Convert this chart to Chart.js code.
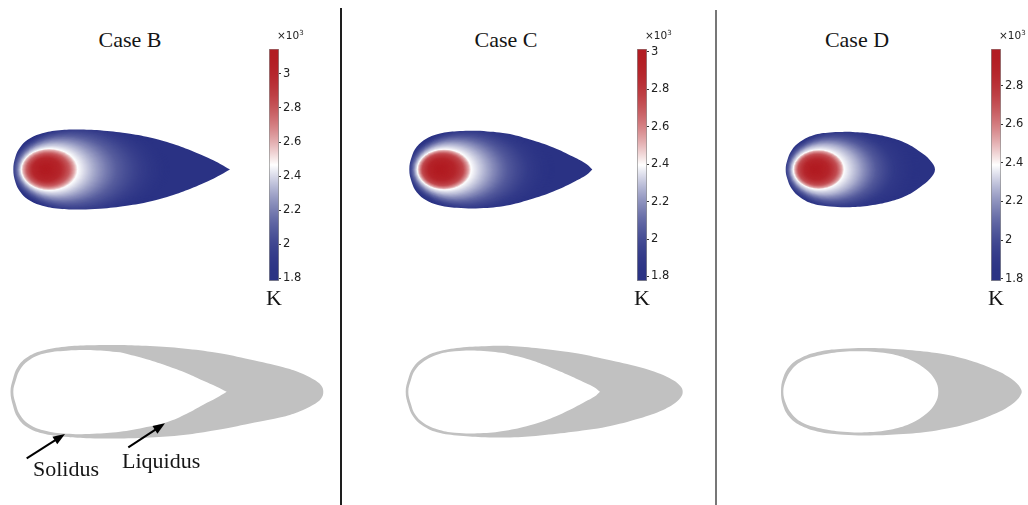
<!DOCTYPE html>
<html>
<head>
<meta charset="utf-8">
<script src="https://cdn.jsdelivr.net/npm/chart.js@4.4.1/dist/chart.umd.min.js"></script>
<style>
  html, body { margin: 0; padding: 0; background: #fff; }
  body { position: relative; width: 1028px; height: 505px; overflow: hidden;
         font-family: "Liberation Serif", "Times New Roman", serif; color: #151515; }
  canvas { position: absolute; }
  .txt { position: absolute; white-space: nowrap; font-size: 22px; line-height: 22px; }
  .mid { transform: translateX(-50%); }
  .mult { position: absolute; white-space: nowrap; font-family: "DejaVu Sans", sans-serif;
          font-size: 10.5px; line-height: 10px; color: #222; }
  .mult sup { font-size: 7px; position: relative; top: -4px; vertical-align: baseline; }
  .rule { position: absolute; bottom: 0; }
</style>
</head>
<body>
<script>
// ---------------------------------------------------------------
// Values (temperatures in 10^3 K, lengths in mm, heat source at 0,0)
// ---------------------------------------------------------------
const CASE_NAMES = ['Case B', 'Case C', 'Case D'];
const T_MIN = [1.784, 1.776, 1.788];
const T_MAX = [3.147, 3.016, 2.990];
const TICKS_B = [1.8, 2, 2.2, 2.4, 2.6, 2.8, 3];
const TICKS_C = [1.8, 2, 2.2, 2.4, 2.6, 2.8, 3];
const TICKS_D = [1.8, 2, 2.2, 2.4, 2.6, 2.8];

// melt-pool outline: x position and half width
const POOL_B_X    = [-0.317, -0.295, -0.25, -0.17, -0.05, 0.117, 0.317, 0.55, 0.817, 1.05, 1.283, 1.483, 1.683, 1.85];
const POOL_B_HALF = [0, 0.13, 0.22, 0.30, 0.355, 0.39, 0.40, 0.393, 0.363, 0.32, 0.255, 0.18, 0.092, 0];
const POOL_C_X    = [-0.307, -0.283, -0.233, -0.133, 0, 0.167, 0.40, 0.667, 0.90, 1.133, 1.333, 1.467, 1.523];
const POOL_C_HALF = [0, 0.127, 0.227, 0.31, 0.36, 0.383, 0.388, 0.36, 0.30, 0.22, 0.127, 0.053, 0];
const POOL_D_X    = [-0.293, -0.277, -0.233, -0.15, -0.017, 0.15, 0.35, 0.55, 0.75, 0.917, 1.05, 1.15, 1.20];
const POOL_D_HALF = [0, 0.093, 0.193, 0.277, 0.343, 0.37, 0.377, 0.36, 0.32, 0.26, 0.177, 0.093, 0];

// isotherms around the heat source: temperature, reach ahead, reach behind, half width
const ISO_B_T     = [3.147, 3.0, 2.8, 2.62, 2.47, 2.3, 2.1, 1.95, 1.784];
const ISO_B_FRONT = [0, 0.12, 0.18, 0.215, 0.235, 0.26, 0.29, 0.32, 0.36];
const ISO_B_REAR  = [0, 0.15, 0.24, 0.29, 0.325, 0.50, 0.72, 0.95, 1.25];
const ISO_B_HALF  = [0, 0.11, 0.16, 0.19, 0.207, 0.27, 0.34, 0.40, 0.47];
const ISO_C_T     = [3.016, 2.9, 2.75, 2.55, 2.40, 2.25, 2.05, 1.9, 1.776];
const ISO_C_FRONT = [0, 0.11, 0.175, 0.205, 0.225, 0.25, 0.28, 0.31, 0.35];
const ISO_C_REAR  = [0, 0.14, 0.23, 0.28, 0.31, 0.47, 0.68, 0.90, 1.15];
const ISO_C_HALF  = [0, 0.10, 0.155, 0.185, 0.20, 0.26, 0.33, 0.39, 0.46];
const ISO_D_T     = [2.99, 2.87, 2.72, 2.54, 2.39, 2.25, 2.05, 1.9, 1.788];
const ISO_D_FRONT = [0, 0.10, 0.165, 0.195, 0.215, 0.24, 0.27, 0.30, 0.34];
const ISO_D_REAR  = [0, 0.13, 0.215, 0.265, 0.29, 0.44, 0.62, 0.80, 1.05];
const ISO_D_HALF  = [0, 0.095, 0.15, 0.18, 0.195, 0.255, 0.32, 0.38, 0.45];

// solidus contour: x, upper and lower half widths
const SOL_B_X   = [-0.345, -0.32, -0.275, -0.185, -0.03, 0.2, 0.45, 0.75, 1.05, 1.383, 1.717, 2.05, 2.383, 2.55, 2.683, 2.76, 2.783];
const SOL_B_UP  = [0, 0.13, 0.245, 0.34, 0.41, 0.45, 0.465, 0.467, 0.457, 0.433, 0.39, 0.323, 0.245, 0.19, 0.125, 0.065, 0];
const SOL_B_LOW = [0, 0.14, 0.255, 0.35, 0.415, 0.45, 0.465, 0.467, 0.457, 0.433, 0.383, 0.317, 0.25, 0.195, 0.13, 0.07, 0];
const SOL_C_X   = [-0.343, -0.317, -0.27, -0.18, -0.03, 0.2, 0.45, 0.70, 1.0, 1.333, 1.667, 2.0, 2.2, 2.333, 2.405, 2.427];
const SOL_C_UP  = [0, 0.13, 0.24, 0.33, 0.40, 0.44, 0.455, 0.457, 0.433, 0.39, 0.323, 0.245, 0.18, 0.115, 0.055, 0];
const SOL_C_LOW = [0, 0.135, 0.245, 0.335, 0.405, 0.44, 0.455, 0.457, 0.437, 0.40, 0.35, 0.265, 0.195, 0.125, 0.06, 0];
const SOL_D_X   = [-0.34, -0.317, -0.25, -0.133, 0.05, 0.283, 0.55, 0.883, 1.217, 1.55, 1.817, 1.933, 2.017, 2.055, 2.067];
const SOL_D_UP  = [0, 0.143, 0.26, 0.343, 0.403, 0.43, 0.437, 0.423, 0.387, 0.313, 0.213, 0.15, 0.085, 0.035, 0];
const SOL_D_LOW = [0, 0.143, 0.26, 0.343, 0.403, 0.43, 0.437, 0.423, 0.387, 0.313, 0.213, 0.15, 0.085, 0.035, 0];

// liquidus contour: x, upper and lower half widths
const LIQ_B_X   = [-0.317, -0.29, -0.25, -0.167, -0.017, 0.217, 0.483, 0.75, 0.983, 1.217, 1.417, 1.583, 1.717, 1.817];
const LIQ_B_UP  = [0, 0.12, 0.22, 0.31, 0.38, 0.41, 0.415, 0.395, 0.335, 0.26, 0.185, 0.11, 0.05, 0];
const LIQ_B_LOW = [0, 0.13, 0.23, 0.32, 0.385, 0.42, 0.42, 0.40, 0.36, 0.305, 0.22, 0.13, 0.06, 0];
const LIQ_C_X   = [-0.317, -0.29, -0.25, -0.167, -0.03, 0.15, 0.40, 0.65, 0.90, 1.10, 1.30, 1.45, 1.55, 1.60];
const LIQ_C_UP  = [0, 0.12, 0.215, 0.30, 0.37, 0.405, 0.41, 0.385, 0.32, 0.245, 0.16, 0.09, 0.04, 0];
const LIQ_C_LOW = [0, 0.125, 0.225, 0.31, 0.375, 0.41, 0.415, 0.39, 0.335, 0.27, 0.18, 0.10, 0.045, 0];
const LIQ_D_X   = [-0.317, -0.29, -0.233, -0.133, 0.05, 0.283, 0.517, 0.75, 0.95, 1.10, 1.20, 1.233];
const LIQ_D_UP  = [0, 0.12, 0.22, 0.305, 0.365, 0.40, 0.405, 0.38, 0.32, 0.23, 0.12, 0];
const LIQ_D_LOW = [0, 0.12, 0.22, 0.305, 0.365, 0.40, 0.405, 0.38, 0.32, 0.23, 0.12, 0];

// ---------------------------------------------------------------
// Per-panel layout (page pixels) and assembled inputs
// ---------------------------------------------------------------
const PANELS = [
  { source: 45,  bar: 269, title: 130, ticks: TICKS_B, sharpTail: true, arrows: true,
    pool: [POOL_B_X, POOL_B_HALF], iso: [ISO_B_T, ISO_B_FRONT, ISO_B_REAR, ISO_B_HALF],
    sol: [SOL_B_X, SOL_B_UP, SOL_B_LOW], liq: [LIQ_B_X, LIQ_B_UP, LIQ_B_LOW], liqSharp: true },
  { source: 440, bar: 637, title: 506, ticks: TICKS_C, sharpTail: true, arrows: false,
    pool: [POOL_C_X, POOL_C_HALF], iso: [ISO_C_T, ISO_C_FRONT, ISO_C_REAR, ISO_C_HALF],
    sol: [SOL_C_X, SOL_C_UP, SOL_C_LOW], liq: [LIQ_C_X, LIQ_C_UP, LIQ_C_LOW], liqSharp: true },
  { source: 815, bar: 991, title: 857, ticks: TICKS_D, sharpTail: false, arrows: false,
    pool: [POOL_D_X, POOL_D_HALF], iso: [ISO_D_T, ISO_D_FRONT, ISO_D_REAR, ISO_D_HALF],
    sol: [SOL_D_X, SOL_D_UP, SOL_D_LOW], liq: [LIQ_D_X, LIQ_D_UP, LIQ_D_LOW], liqSharp: false }
];

// blue - white - red temperature colour map
const COLD = [42, 50, 132], HOT = [178, 28, 34];
function tempColour(u) {
  u = Math.min(1, Math.max(0, u));
  let base, w;
  if (u < 0.5) { base = COLD; w = Math.pow(u / 0.5, 2); }
  else { base = HOT; w = Math.pow((1 - u) / 0.5, 2); }
  const c = base.map(v => Math.round(v + (255 - v) * w));
  return `rgb(${c[0]},${c[1]},${c[2]})`;
}

// closed outline: start on the upper edge, run to the tail, back along the lower edge, round the front
function outline(xs, up, low, sharpTail) {
  const n = xs.length, m = Math.floor(n / 2), pts = [];
  for (let i = m; i < n; i++) pts.push({ x: xs[i], y: up[i] });
  if (sharpTail) pts.push({ x: xs[n - 1], y: -low[n - 1] });
  for (let i = n - 2; i >= 0; i--) pts.push({ x: xs[i], y: -low[i] });
  for (let i = 1; i <= m; i++) pts.push({ x: xs[i], y: up[i] });
  return pts;
}

// temperature field painted off-screen from the isotherms and used as the pool's fill
function fieldFill(chart, iso, tmin, tmax) {
  if (!chart.chartArea) return 'rgba(0,0,0,0)';
  if (chart.$field) return chart.$field;
  const [T, FR, RE, HW] = iso;
  const xs = chart.scales.x, ys = chart.scales.y;
  const off = document.createElement('canvas');
  off.width = chart.width; off.height = chart.height;
  const g = off.getContext('2d');
  const col = t => tempColour((t - tmin) / (tmax - tmin));
  const x0 = xs.getPixelForValue(0), y0 = ys.getPixelForValue(0);
  const sx = xs.getPixelForValue(1) - x0, sy = y0 - ys.getPixelForValue(1);
  const n = T.length;
  g.fillStyle = col(T[n - 1]);
  g.fillRect(0, 0, off.width, off.height);
  const STEPS = 24;
  for (let i = n - 1; i > 0; i--) {
    for (let s = 0; s < STEPS; s++) {
      const f = s / STEPS;
      const at = arr => arr[i] + (arr[i - 1] - arr[i]) * f;
      const fr = at(FR), re = at(RE), hw = at(HW);
      const a = (fr + re) / 2 * sx, b = hw * sy;
      if (a <= 0 || b <= 0) continue;
      g.fillStyle = col(at(T));
      g.beginPath();
      g.ellipse(x0 + (re - fr) / 2 * sx, y0, a, b, 0, 0, Math.PI * 2);
      g.fill();
    }
  }
  chart.$field = chart.ctx.createPattern(off, 'no-repeat');
  return chart.$field;
}

// arrows pointing at the contours
const pointerArrows = {
  id: 'pointerArrows',
  afterDatasetsDraw(chart, args, opts) {
    const { ctx, scales: { x, y } } = chart;
    (opts.items || []).forEach(a => {
      const tx = x.getPixelForValue(a.from[0]), ty = y.getPixelForValue(a.from[1]);
      const hx = x.getPixelForValue(a.to[0]), hy = y.getPixelForValue(a.to[1]);
      const len = Math.hypot(hx - tx, hy - ty), ux = (hx - tx) / len, uy = (hy - ty) / len;
      const head = 12, half = 4.5;
      ctx.save();
      ctx.strokeStyle = '#000'; ctx.fillStyle = '#000'; ctx.lineWidth = 2;
      ctx.beginPath(); ctx.moveTo(tx, ty); ctx.lineTo(hx - ux * head * 0.8, hy - uy * head * 0.8); ctx.stroke();
      ctx.beginPath();
      ctx.moveTo(hx, hy);
      ctx.lineTo(hx - ux * head - uy * half, hy - uy * head + ux * half);
      ctx.lineTo(hx - ux * head + uy * half, hy - uy * head - ux * half);
      ctx.closePath(); ctx.fill();
      ctx.restore();
    });
  }
};

function addCanvas(left, top, w, h) {
  const c = document.createElement('canvas');
  c.width = w; c.height = h;
  c.style.left = left + 'px'; c.style.top = top + 'px';
  document.body.appendChild(c);
  return c;
}
function addText(cls, html, left, top) {
  const d = document.createElement('div');
  d.className = cls; d.innerHTML = html;
  d.style.left = left + 'px'; d.style.top = top + 'px';
  document.body.appendChild(d);
  return d;
}
function hiddenScales(xmin, xmax, ymin, ymax) {
  return {
    x: { type: 'linear', display: false, min: xmin, max: xmax },
    y: { type: 'linear', display: false, min: ymin, max: ymax }
  };
}
const BASE = {
  responsive: false, animation: false, events: [],
  layout: { padding: 0 },
  elements: { point: { radius: 0 } }
};

PANELS.forEach((p, k) => {
  const tmin = T_MIN[k], tmax = T_MAX[k];

  // temperature field inside the melt pool
  new Chart(addCanvas(p.source - 45, 114, 260, 110), {
    type: 'scatter',
    data: { datasets: [{
      data: outline(p.pool[0], p.pool[1], p.pool[1], p.sharpTail),
      showLine: true, tension: 0.4, fill: 'shape',
      borderWidth: 0, borderColor: 'rgba(0,0,0,0)',
      backgroundColor: ctx => fieldFill(ctx.chart, p.iso, tmin, tmax)
    }] },
    options: Object.assign({}, BASE, {
      plugins: { legend: { display: false }, tooltip: { enabled: false } },
      scales: hiddenScales(-0.45, 2.15, -0.545, 0.555)
    })
  });

  // colour bar
  new Chart(addCanvas(p.bar, 40, 40, 250), {
    type: 'bar',
    data: { labels: [''], datasets: [{
      data: [[tmin, tmax]],
      barPercentage: 1, categoryPercentage: 1,
      borderColor: '#8e8e8e', borderWidth: 1, borderSkipped: false,
      backgroundColor: ctx => {
        const { chart } = ctx;
        if (!chart.chartArea) return 'rgba(0,0,0,0)';
        const a = chart.chartArea;
        const grad = chart.ctx.createLinearGradient(0, a.bottom, 0, a.top);
        for (let i = 0; i <= 40; i++) grad.addColorStop(i / 40, tempColour(i / 40));
        return grad;
      }
    }] },
    options: Object.assign({}, BASE, {
      layout: { padding: { top: 7, bottom: 9, left: 0, right: 0 } },
      plugins: { legend: { display: false }, tooltip: { enabled: false } },
      scales: {
        x: { display: false },
        y: {
          position: 'right', min: tmin, max: tmax,
          afterFit: s => { s.width = 30; },
          afterBuildTicks: s => { s.ticks = p.ticks.map(v => ({ value: v })); },
          grid: { drawOnChartArea: false, drawTicks: true, tickLength: 2, tickColor: '#333', lineWidth: 1 },
          border: { display: false },
          ticks: { padding: 2, color: '#222', font: { family: 'DejaVu Sans', size: 11.5 },
                   callback: v => String(v) }
        }
      }
    })
  });

  // solidus / liquidus contours
  const plug = p.arrows ? [pointerArrows] : [];
  new Chart(addCanvas(p.source - 45, 336, 340, 150), {
    type: 'scatter',
    data: { datasets: [
      { label: 'Liquidus', data: outline(p.liq[0], p.liq[1], p.liq[2], p.liqSharp),
        showLine: true, tension: 0.4, fill: 'shape', borderWidth: 0,
        borderColor: 'rgba(0,0,0,0)', backgroundColor: '#ffffff' },
      { label: 'Solidus', data: outline(p.sol[0], p.sol[1], p.sol[2], false),
        showLine: true, tension: 0.4, fill: 'shape', borderWidth: 0,
        borderColor: 'rgba(0,0,0,0)', backgroundColor: '#c1c1c1' }
    ] },
    options: Object.assign({}, BASE, {
      plugins: {
        legend: { display: false }, tooltip: { enabled: false },
        pointerArrows: { items: [
          { from: [-0.183, -0.666], to: [0.20, -0.423] },
          { from: [0.833, -0.556], to: [1.20, -0.316] }
        ] }
      },
      scales: hiddenScales(-0.45, 2.95, -0.943, 0.557)
    }),
    plugins: plug
  });

  // panel texts
  addText('txt mid', CASE_NAMES[k], p.title, 29);
  addText('txt mid', 'K', p.bar + 5, 287);
  addText('mult', '×10<sup>3</sup>', p.bar + 8, 30);
});

addText('txt', 'Solidus', 33, 458);
addText('txt', 'Liquidus', 122, 450);

// panel separators
[[340, 8, '#1e1e1e'], [715, 10, '#777777']].forEach(([x, top, c]) => {
  const d = document.createElement('div');
  d.className = 'rule';
  d.style.left = x + 'px'; d.style.top = top + 'px';
  d.style.width = '1.5px'; d.style.background = c;
  document.body.appendChild(d);
});
</script>
</body>
</html>
